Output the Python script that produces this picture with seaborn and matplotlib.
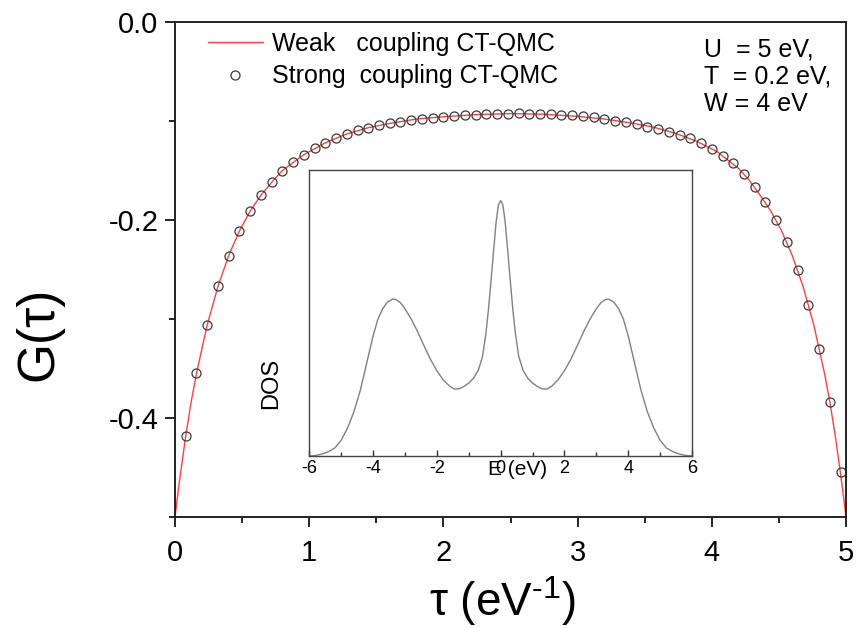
import numpy as np
import pandas as pd
import matplotlib
matplotlib.use("Agg")
import matplotlib.pyplot as plt
import seaborn as sns
from matplotlib.ticker import MultipleLocator, FormatStrFormatter

# ---------------- data ----------------
tau_strong = [0.08, 0.16, 0.24, 0.32, 0.40, 0.48, 0.56, 0.64, 0.72, 0.80,
              0.88, 0.96, 1.04, 1.12, 1.20, 1.28, 1.36, 1.44, 1.52, 1.60,
              1.68, 1.76, 1.84, 1.92, 2.00, 2.08, 2.16, 2.24, 2.32, 2.40,
              2.48, 2.56, 2.64, 2.72, 2.80, 2.88, 2.96, 3.04, 3.12, 3.20,
              3.28, 3.36, 3.44, 3.52, 3.60, 3.68, 3.76, 3.84, 3.92, 4.00,
              4.08, 4.16, 4.24, 4.32, 4.40, 4.48, 4.56, 4.64, 4.72, 4.80,
              4.88, 4.96]
g_strong = [-0.418, -0.355, -0.306, -0.267, -0.236, -0.211, -0.191, -0.175, -0.162, -0.150,
            -0.141, -0.134, -0.127, -0.122, -0.1175, -0.113, -0.109, -0.1068, -0.1044, -0.1024,
            -0.1007, -0.099, -0.0977, -0.097, -0.0957, -0.0945, -0.094, -0.0937, -0.0933, -0.093,
            -0.0925, -0.0923, -0.0926, -0.0929, -0.0933, -0.0936, -0.0943, -0.095, -0.0963, -0.098,
            -0.0997, -0.1013, -0.1035, -0.106, -0.1084, -0.1108, -0.1138, -0.1175, -0.1225, -0.128,
            -0.135, -0.142, -0.1535, -0.167, -0.182, -0.200, -0.222, -0.250, -0.286, -0.330,
            -0.384, -0.455]

tau_weak = [0.0, 0.02, 0.04, 0.08, 0.12, 0.16, 0.24, 0.32, 0.40, 0.48, 0.56, 0.64, 0.72,
            0.80, 0.96, 1.12, 1.28, 1.44, 1.60, 1.80, 2.00, 2.25, 2.50, 2.75, 3.00, 3.20,
            3.40, 3.56, 3.72, 3.88, 4.04, 4.20, 4.28, 4.36, 4.44, 4.52, 4.60, 4.68, 4.76,
            4.84, 4.88, 4.92, 4.96, 4.98, 5.00]
g_weak = [-0.500, -0.478, -0.457, -0.418, -0.384, -0.355, -0.306, -0.267, -0.236, -0.211,
          -0.191, -0.175, -0.162, -0.150, -0.134, -0.122, -0.113, -0.1068, -0.1024, -0.098,
          -0.0957, -0.0935, -0.0925, -0.0932, -0.0953, -0.098, -0.102, -0.106, -0.112, -0.120,
          -0.131, -0.148, -0.160, -0.175, -0.191, -0.211, -0.236, -0.267, -0.306, -0.355,
          -0.384, -0.418, -0.457, -0.478, -0.500]

energy = [-6.00, -5.80, -5.60, -5.40, -5.20, -5.00, -4.80, -4.60, -4.40, -4.20, -4.00,
          -3.85, -3.70, -3.55, -3.40, -3.30, -3.15, -3.00, -2.80, -2.60, -2.40, -2.20,
          -2.00, -1.80, -1.60, -1.45, -1.30, -1.15, -1.00, -0.85, -0.70, -0.57, -0.46,
          -0.38, -0.30, -0.22, -0.14, -0.07, 0.00,
          0.07, 0.14, 0.22, 0.30, 0.38, 0.46, 0.57, 0.70, 0.85, 1.00, 1.15, 1.30, 1.45,
          1.60, 1.80, 2.00, 2.20, 2.40, 2.60, 2.80, 3.00, 3.15, 3.30, 3.40, 3.55, 3.70,
          3.85, 4.00, 4.20, 4.40, 4.60, 4.80, 5.00, 5.20, 5.40, 5.60, 5.80, 6.00]
dos = [0.000, 0.002, 0.007, 0.015, 0.028, 0.055, 0.098, 0.155, 0.230, 0.325, 0.420,
       0.478, 0.515, 0.538, 0.548, 0.548, 0.537, 0.515, 0.478, 0.434, 0.385, 0.338,
       0.298, 0.266, 0.244, 0.234, 0.235, 0.243, 0.255, 0.272, 0.300, 0.347, 0.430,
       0.515, 0.615, 0.720, 0.820, 0.878, 0.893,
       0.878, 0.820, 0.720, 0.615, 0.515, 0.430, 0.347, 0.300, 0.272, 0.255, 0.243, 0.235,
       0.234, 0.244, 0.266, 0.298, 0.338, 0.385, 0.434, 0.478, 0.515, 0.537, 0.548, 0.548,
       0.538, 0.515, 0.478, 0.420, 0.325, 0.230, 0.155, 0.098, 0.055, 0.028, 0.015, 0.007,
       0.002, 0.000]

weak_label = "Weak   coupling CT-QMC"
strong_label = "Strong  coupling CT-QMC"
param_text = "U  = 5 eV,\nT  = 0.2 eV,\nW = 4 eV"

# ---------------- style ----------------
sns.set_theme(style="ticks")
plt.rcParams["font.family"] = ["Liberation Sans", "DejaVu Sans"]
plt.rcParams["mathtext.fontset"] = "custom"
plt.rcParams["mathtext.rm"] = "Liberation Sans"
plt.rcParams["axes.unicode_minus"] = False
for key in ["text.color", "axes.labelcolor", "xtick.color", "ytick.color"]:
    plt.rcParams[key] = "black"

fig = plt.figure(figsize=(8.56, 6.28), dpi=100)
W, H = 856, 628
ax = fig.add_axes([175 / W, 1 - 517 / H, 671 / W, 495 / H])

weak_df = pd.DataFrame({"tau": tau_weak, "G": g_weak})
strong_df = pd.DataFrame({"tau": tau_strong, "G": g_strong})

sns.lineplot(data=weak_df, x="tau", y="G", ax=ax, color="#ff4040", linewidth=1.0,
             label=weak_label, estimator=None, sort=False)
sns.lineplot(data=strong_df, x="tau", y="G", ax=ax, linestyle="", marker="o",
             markersize=6.5, markerfacecolor="none", markeredgecolor="#3a3a3a",
             markeredgewidth=0.9, label=strong_label, estimator=None, sort=False)

ax.set_xlim(0, 5)
ax.set_ylim(-0.5, 0.0)
ax.xaxis.set_major_locator(MultipleLocator(1))
ax.xaxis.set_minor_locator(MultipleLocator(0.5))
ax.yaxis.set_major_locator(MultipleLocator(0.2))
ax.yaxis.set_minor_locator(MultipleLocator(0.1))
ax.xaxis.set_major_formatter(FormatStrFormatter("%d"))
ax.yaxis.set_major_formatter(FormatStrFormatter("%.1f"))
ax.tick_params(which="major", direction="out", length=7, width=1.2, labelsize=21,
               top=False, right=False)
ax.tick_params(axis="x", which="major", pad=9)
ax.tick_params(axis="y", which="major", pad=5)
ax.tick_params(which="minor", direction="out", length=4.5, width=1.2,
               top=False, right=False)
for s in ax.spines.values():
    s.set_visible(True)
    s.set_linewidth(1.4)
    s.set_color("#222222")

ax.set_xlabel(r"τ (eV$^{\text{-1}}$)", fontsize=33)
ax.xaxis.set_label_coords(0.488, -0.115)
ax.set_ylabel("G(τ)", fontsize=37)
ax.yaxis.set_label_coords(-0.166, 0.37)

leg = ax.legend(loc="upper left", bbox_to_anchor=(0.034, 1.0), frameon=False,
                fontsize=18, handlelength=2.2, handletextpad=0.35, labelspacing=0.33,
                borderaxespad=0.0)

ax.text(0.789, 0.968, param_text, transform=ax.transAxes, ha="left", va="top",
        fontsize=18, linespacing=1.15)

# ---------------- inset ----------------
axin = fig.add_axes([309.3 / W, 1 - 456 / H, 382.7 / W, 286 / H])
dos_df = pd.DataFrame({"E": energy, "DOS": dos})
sns.lineplot(data=dos_df, x="E", y="DOS", ax=axin, color="#808080", linewidth=1.0,
             estimator=None, sort=False)
axin.set_xlim(-6, 6)
axin.set_ylim(0, 1.0)
axin.set_yticks([])
axin.xaxis.set_major_locator(MultipleLocator(2))
axin.xaxis.set_minor_locator(MultipleLocator(1))
axin.tick_params(which="major", direction="in", length=4, width=1.0, labelsize=13,
                 pad=3, colors="#333333", labelcolor="black")
axin.tick_params(which="minor", direction="in", length=3, width=1.0, colors="#333333")
for s in axin.spines.values():
    s.set_visible(True)
    s.set_linewidth(1.0)
    s.set_color("#444444")
axin.set_xlabel("E (eV)", fontsize=15)
axin.xaxis.set_label_coords(0.545, -0.015)
axin.set_ylabel("DOS", fontsize=17)
axin.yaxis.set_label_coords(-0.07, 0.255)

fig.savefig("out.png", dpi=100)
